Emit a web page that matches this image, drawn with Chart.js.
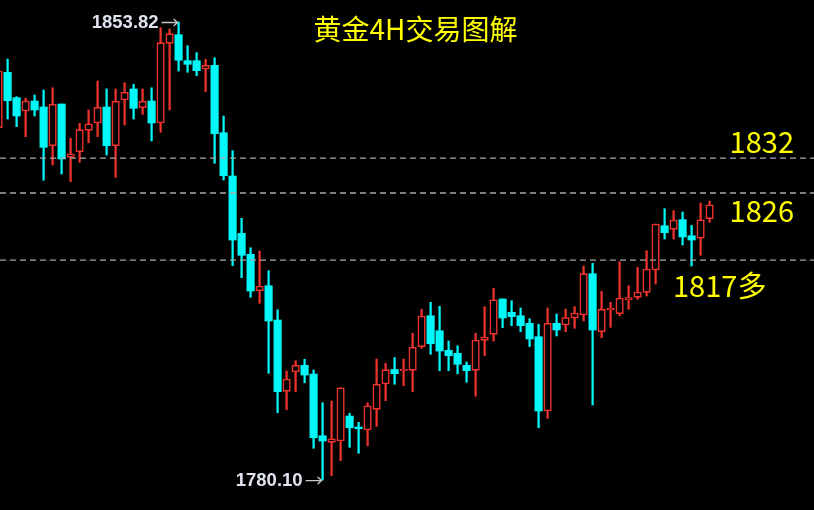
<!DOCTYPE html>
<html>
<head>
<meta charset="utf-8">
<script src="https://cdn.jsdelivr.net/npm/chart.js@4.4.1/dist/chart.umd.min.js"></script>
<style>
  html, body { margin: 0; padding: 0; background: #000; }
  #wrap { width: 814px; height: 510px; position: relative; background: #000; }
</style>
</head>
<body>
<div id="wrap"><canvas id="c"></canvas></div>
<script>
// ---- data (4H candles, index -1 is partially off the left edge) ----
const opens = [1836.81,1845.72,1841.64,1839.50,1841.10,1840.14,1833.91,1840.62,1832.04,1832.94,
  1836.39,1837.56,1840.14,1833.91,1841.27,1843.04,1840.03,1841.10,1837.56,1850.39,
  1851.78,1847.59,1847.59,1846.25,1846.85,1836.00,1829.03,1819.81,1816.43,1810.57,
  1811.38,1805.86,1794.38,1797.49,1798.57,1797.16,1787.23,1786.17,1786.38,1790.40,
  1788.63,1788.15,1791.48,1795.56,1797.89,1797.70,1797.76,1801.56,1806.55,1804.13,
  1800.98,1800.50,1798.57,1797.76,1802.59,1803.55,1809.24,1807.10,1806.55,1805.32,
  1803.17,1791.21,1805.32,1805.05,1806.18,1806.66,1813.31,1803.97,1807.47,1806.87,
  1809.08,1809.51,1810.31,1813.90,1821.03,1820.45,1822.00,1819.42,1819.01,1822.16];
const highs = [1846.40,1847.86,1841.80,1841.54,1842.07,1842.87,1843.24,1840.62,1835.10,1837.52,
  1839.66,1844.32,1843.04,1843.04,1844.05,1843.79,1843.04,1843.24,1852.90,1852.69,
  1853.82,1850.00,1848.88,1847.82,1848.07,1838.69,1833.11,1822.23,1817.49,1816.96,
  1813.79,1807.51,1797.65,1799.31,1799.53,1797.81,1792.55,1792.82,1794.96,1790.84,
  1789.39,1792.55,1799.58,1798.89,1799.82,1799.58,1803.72,1807.58,1808.71,1808.06,
  1802.48,1801.72,1799.10,1803.72,1808.00,1810.96,1809.24,1808.96,1807.79,1806.07,
  1805.16,1807.79,1806.82,1807.63,1808.00,1814.55,1814.98,1810.48,1808.71,1815.24,
  1811.38,1814.34,1817.01,1821.31,1823.77,1823.45,1823.24,1821.10,1824.69,1825.01];
const lows = [1835.90,1838.21,1836.97,1835.36,1838.69,1828.34,1830.80,1829.36,1828.12,1831.24,
  1834.39,1835.36,1832.41,1828.82,1837.24,1838.21,1838.96,1834.67,1836.07,1839.66,
  1845.93,1845.72,1845.18,1842.60,1831.08,1828.39,1814.60,1812.66,1809.51,1808.54,
  1797.28,1790.94,1791.42,1794.32,1795.76,1785.21,1780.10,1780.80,1783.21,1785.37,
  1784.40,1785.62,1788.75,1792.87,1795.51,1795.28,1794.32,1801.30,1800.34,1797.70,
  1797.70,1797.21,1795.83,1793.58,1800.11,1802.48,1804.62,1804.94,1803.97,1801.56,
  1788.52,1790.03,1803.28,1803.97,1804.52,1805.70,1792.18,1803.01,1804.68,1806.55,
  1807.58,1809.19,1809.72,1811.65,1818.89,1818.89,1817.93,1814.55,1816.27,1821.58];
const closes = [1845.93,1841.15,1838.69,1841.10,1839.66,1833.65,1840.57,1831.77,1832.62,1836.49,
  1837.45,1840.09,1833.91,1841.06,1842.50,1839.93,1841.06,1837.56,1850.49,1851.94,
  1847.66,1847.01,1845.98,1846.85,1835.84,1829.08,1818.73,1816.27,1810.52,1811.33,
  1805.70,1794.32,1796.36,1798.57,1797.00,1786.91,1786.38,1786.75,1794.96,1788.52,
  1788.36,1792.06,1795.51,1797.86,1797.21,1797.92,1801.46,1806.50,1802.04,1800.87,
  1800.11,1798.73,1797.70,1802.64,1803.12,1809.12,1806.18,1806.39,1804.94,1802.80,
  1791.21,1805.32,1804.25,1806.26,1806.98,1813.31,1804.25,1807.58,1807.79,1809.40,
  1809.45,1810.36,1814.06,1821.31,1819.91,1821.95,1819.22,1818.73,1822.00,1824.41];
const candleIndex = opens.map((_, i) => i - 1);

const levelValues = [1831.9, 1826.3, 1815.5];   // dashed lines as drawn
const levelLabels = ['1832', '1826', '1817多'];
const titleText = '黄金4H交易图解';

// ---- styling ----
const UP = '#ee322c', DOWN = '#00f8f8';
const isUp = opens.map((o, i) => closes[i] > o);

const bodies = candleIndex.map((x, i) => ({ x, y: [opens[i], closes[i]] }));
const wicks = candleIndex.map((x, i) => ({ x, y: [lows[i], highs[i]] }));

const overlay = {
  id: 'overlay',
  afterDatasetsDraw(chart) {
    const { ctx, scales: { x, y }, chartArea } = chart;
    ctx.save();
    // dashed levels
    ctx.strokeStyle = '#a8a8a8';
    ctx.lineWidth = 1.3;
    ctx.setLineDash([6, 4]);
    levelValues.forEach(v => {
      const py = y.getPixelForValue(v);
      ctx.beginPath();
      ctx.moveTo(chartArea.left, py);
      ctx.lineTo(chartArea.right, py);
      ctx.stroke();
    });
    ctx.setLineDash([]);

    // level labels
    ctx.fillStyle = '#ffff00';
    ctx.font = '29px "Noto Sans CJK SC", "Noto Sans", sans-serif';
    ctx.textBaseline = 'alphabetic';
    ctx.textAlign = 'right';
    ctx.fillText(levelLabels[0], 794, y.getPixelForValue(levelValues[0]) - 5);
    ctx.fillText(levelLabels[1], 794, y.getPixelForValue(levelValues[1]) + 29.5);
    ctx.textAlign = 'left';
    ctx.fillText(levelLabels[2], 673, y.getPixelForValue(levelValues[2]) + 36.5);

    // title
    ctx.font = '28px "Noto Sans CJK SC", sans-serif';
    ctx.textAlign = 'center';
    ctx.fillText(titleText, 415.5, 40);

    // high / low markers
    const hiIdx = highs.indexOf(Math.max(...highs));
    const loIdx = lows.indexOf(Math.min(...lows));
    const marks = [
      { v: highs[hiIdx], px: x.getPixelForValue(candleIndex[hiIdx]) },
      { v: lows[loIdx], px: x.getPixelForValue(candleIndex[loIdx]) }
    ];
    ctx.font = 'bold 18.5px "Liberation Sans", Arial, sans-serif';
    ctx.textAlign = 'right';
    ctx.textBaseline = 'middle';
    marks.forEach(m => {
      const py = y.getPixelForValue(m.v);
      ctx.fillStyle = '#dfe3ee';
      ctx.fillText(m.v.toFixed(2), m.px - 20, py + 1);
      ctx.strokeStyle = '#c8c8c8';
      ctx.lineWidth = 1.3;
      ctx.beginPath();
      ctx.moveTo(m.px - 17, py + 0.5);
      ctx.lineTo(m.px - 1, py + 0.5);
      ctx.moveTo(m.px - 5, py - 3);
      ctx.lineTo(m.px - 1, py + 0.5);
      ctx.lineTo(m.px - 5, py + 4);
      ctx.stroke();
    });
    ctx.restore();
  }
};

new Chart(document.getElementById('c'), {
  type: 'bar',
  data: {
    datasets: [
      {
        label: 'body',
        data: bodies,
        backgroundColor: isUp.map(u => u ? '#000000' : DOWN),
        borderColor: isUp.map(u => u ? UP : DOWN),
        borderWidth: isUp.map(u => u ? 1.6 : 0),
        borderSkipped: false,
        barThickness: 7.5,
        grouped: false
      },
      {
        label: 'wick',
        data: wicks,
        backgroundColor: isUp.map(u => u ? UP : DOWN),
        borderWidth: 0,
        barThickness: 1.6,
        grouped: false
      }
    ]
  },
  options: {
    responsive: true,
    maintainAspectRatio: false,
    animation: false,
    layout: { padding: 0 },
    plugins: { legend: { display: false }, tooltip: { enabled: false }, title: { display: false } },
    scales: {
      x: { type: 'linear', min: -7.6 / 9, max: (814 - 7.6) / 9, offset: false, display: false },
      y: { type: 'linear', min: 1775.28, max: 1857.36, display: false }
    }
  },
  plugins: [overlay]
});
</script>
</body>
</html>
